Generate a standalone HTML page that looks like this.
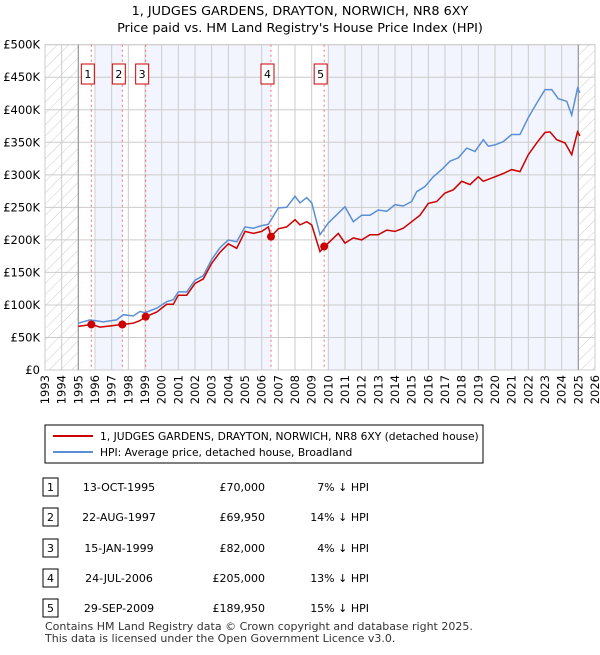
<!DOCTYPE html>
<html><head><meta charset="utf-8"><style>
body{margin:0;background:#fff;font-family:"Liberation Sans","DejaVu Sans",sans-serif;}
svg text{font-family:"DejaVu Sans","Liberation Sans",sans-serif;}
</style></head><body>
<svg id="c" width="600" height="650" xmlns="http://www.w3.org/2000/svg">
<defs><pattern id="hatch" width="8" height="8" patternUnits="userSpaceOnUse" patternTransform="rotate(45)"><line x1="0" y1="0" x2="0" y2="8" stroke="#ccc" stroke-width="1"/></pattern></defs>
<text x="300" y="15" text-anchor="middle" font-size="12.8">1, JUDGES GARDENS, DRAYTON, NORWICH, NR8 6XY</text>
<text x="300" y="32" text-anchor="middle" font-size="12.8">Price paid vs. HM Land Registry's House Price Index (HPI)</text>
<g id="plot"></g>
<g>
<rect x="45" y="425" width="438" height="38" fill="#fff" stroke="#000" stroke-width="1"/>
<line x1="53" y1="436" x2="93" y2="436" stroke="#cc0000" stroke-width="2"/>
<text x="100" y="440" font-size="10.7">1, JUDGES GARDENS, DRAYTON, NORWICH, NR8 6XY (detached house)</text>
<line x1="53" y1="452" x2="93" y2="452" stroke="#5b8fd6" stroke-width="2"/>
<text x="100" y="456" font-size="10.7">HPI: Average price, detached house, Broadland</text>
</g>
<g id="table"></g>
<text x="45" y="630" font-size="11" fill="#333">Contains HM Land Registry data © Crown copyright and database right 2025.</text>
<text x="45" y="642" font-size="11" fill="#333">This data is licensed under the Open Government Licence v3.0.</text>
</svg>
<script>
const hpiYears=[1995.0,1995.7,1996.5,1997.3,1997.7,1998.3,1998.7,1999.0,1999.7,2000.3,2000.7,2001.0,2001.5,2002.0,2002.5,2003.0,2003.5,2004.0,2004.5,2005.0,2005.5,2006.0,2006.4,2007.0,2007.5,2008.0,2008.3,2008.7,2009.0,2009.5,2010.0,2010.6,2011.0,2011.5,2012.0,2012.5,2013.0,2013.5,2014.0,2014.5,2015.0,2015.3,2015.8,2016.3,2016.8,2017.3,2017.8,2018.3,2018.8,2019.3,2019.6,2020.0,2020.5,2021.0,2021.5,2022.0,2022.5,2023.0,2023.4,2023.8,2024.3,2024.6,2024.95,2025.1];
const hpiValues=[72,77,74,77,85,83,90,88,95,105,108,120,120,138,145,170,188,200,197,220,218,222,224,249,250,267,257,265,257,208,226,241,251,228,238,238,246,244,254,252,259,274,282,297,308,321,326,341,336,354,344,346,351,362,362,388,410,431,431,417,413,392,433,426];
const priceYears=[1995.0,1995.78,1996.3,1997.0,1997.63,1998.3,1998.7,1999.04,1999.7,2000.3,2000.7,2001.0,2001.5,2002.0,2002.5,2003.0,2003.5,2004.0,2004.5,2005.0,2005.5,2006.0,2006.4,2006.56,2007.0,2007.5,2008.0,2008.3,2008.7,2009.0,2009.5,2009.75,2010.0,2010.6,2011.0,2011.5,2012.0,2012.5,2013.0,2013.5,2014.0,2014.5,2015.0,2015.5,2016.0,2016.5,2017.0,2017.5,2018.0,2018.5,2019.0,2019.3,2019.8,2020.5,2021.0,2021.5,2022.0,2022.5,2023.0,2023.3,2023.7,2024.2,2024.6,2024.95,2025.1];
const priceValues=[67,70,66,68,70,72,76,82,89,101,101,115,115,133,140,164,181,194,187,213,210,213,220,205,217,220,231,223,228,223,182,190,195,210,195,203,200,208,208,215,213,218,228,238,256,259,272,277,290,285,297,290,295,302,308,305,331,349,365,366,354,349,331,366,360];
const saleYears=[1995.78,1997.64,1999.04,2006.56,2009.75];
const salePrices=[70,69.95,82,205,189.95];
const saleDates=["13-OCT-1995","22-AUG-1997","15-JAN-1999","24-JUL-2006","29-SEP-2009"];
const salePriceLabels=["£70,000","£69,950","£82,000","£205,000","£189,950"];
const salePct=["7% ↓ HPI","14% ↓ HPI","4% ↓ HPI","13% ↓ HPI","15% ↓ HPI"];
const yTicks=[0,50,100,150,200,250,300,350,400,450,500];
const yTickLabels=["£0","£50K","£100K","£150K","£200K","£250K","£300K","£350K","£400K","£450K","£500K"];
const xStart=1993,xEnd=2026;
const L=45,R=595,T=44.7,B=370;
const X=y=>L+(y-xStart)*(R-L)/(xEnd-xStart);
const Y=v=>B-v*(B-T)/500;
const NS="http://www.w3.org/2000/svg";
const plot=document.getElementById('plot');
function mk(tag,attrs,parent){const e=document.createElementNS(NS,tag);for(const k in attrs)e.setAttribute(k,attrs[k]);(parent||plot).appendChild(e);return e;}
let e=mk('rect',{x:L,y:T,width:R-L,height:B-T,fill:'#fff'});


const bands=[[1996.05,1997.64],[1999.04,2006.56],[2009.95,2025.0]];
bands.forEach(b=>{const r=mk('rect',{x:X(b[0]),y:T,width:X(b[1])-X(b[0]),height:B-T,fill:'#f2f5fd'});

});
e=mk('rect',{x:L,y:T,width:X(1995)-L,height:B-T,fill:'url(#hatch)'});


e=mk('rect',{x:X(2025),y:T,width:R-X(2025),height:B-T,fill:'url(#hatch)'});


for(let y=xStart;y<=xEnd;y++){const l=mk('line',{x1:X(y),x2:X(y),y1:T,y2:B,stroke:'#ccc','stroke-width':1});


const t=mk('text',{x:0,y:0,'font-size':11.5,'text-anchor':'end',transform:`translate(${X(y)+4},${B+5}) rotate(-90)`});t.textContent=y;

}
yTicks.forEach((v,i)=>{const l=mk('line',{x1:L,x2:R,y1:Y(v),y2:Y(v),stroke:'#ccc','stroke-width':1});


const t=mk('text',{x:40,y:Y(v)+4,'font-size':11.5,'text-anchor':'end'});t.textContent=yTickLabels[i];

});
e=mk('rect',{x:L,y:T,width:R-L,height:B-T,fill:'none',stroke:'#ccc'});


[1995,2025].forEach(y=>{const l=mk('line',{x1:X(y),x2:X(y),y1:T,y2:B,stroke:'#999','stroke-width':1.2});

});
saleYears.forEach((y,i)=>{const l=mk('line',{x1:X(y),x2:X(y),y1:T,y2:B,stroke:'#f07070','stroke-width':1,'stroke-dasharray':'2,3'});


const r=mk('rect',{x:X(y)-10,y:64,width:13,height:20,fill:'#fff',stroke:'#cc0000'});


const t=mk('text',{x:X(y)-3.5,y:78,'font-size':11,'text-anchor':'middle'});t.textContent=i+1;

});
function path(xs,vs){return xs.map((x,i)=>(i?'L':'M')+X(x).toFixed(1)+','+Y(vs[i]).toFixed(1)).join('');}
e=mk('path',{d:path(hpiYears,hpiValues),fill:'none',stroke:'#5b8fd6','stroke-width':1.5});


e=mk('path',{d:path(priceYears,priceValues),fill:'none',stroke:'#cc0000','stroke-width':1.5});


saleYears.forEach((y,i)=>{const c=mk('circle',{cx:X(y),cy:Y(salePrices[i]),r:4,fill:'#cc0000'});

});
const tb=document.getElementById('table');
const rowY=[487,517,548,578,608];
saleDates.forEach((d,i)=>{const y=rowY[i];
const r=mk('rect',{x:43,y:y-9,width:15,height:18,fill:'#fff',stroke:'#000'},tb);


const n=mk('text',{x:50.5,y:y+4,'font-size':11,'text-anchor':'middle'},tb);n.textContent=i+1;


const a=mk('text',{x:119,y:y+4,'font-size':11,'text-anchor':'middle'},tb);a.textContent=d;


const p=mk('text',{x:265,y:y+4,'font-size':11,'text-anchor':'end'},tb);p.textContent=salePriceLabels[i];


const q=mk('text',{x:369,y:y+4,'font-size':11,'text-anchor':'end'},tb);q.textContent=salePct[i];

});
</script>
</body></html>
